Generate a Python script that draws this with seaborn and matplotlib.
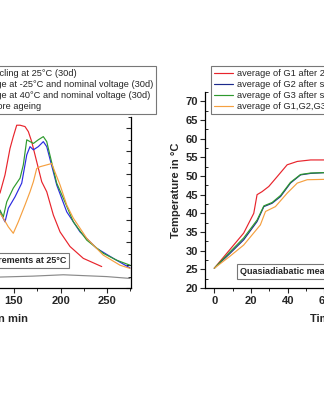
import matplotlib
matplotlib.use("Agg")
import matplotlib.pyplot as plt
from matplotlib.ticker import MultipleLocator
import seaborn as sns
import pandas as pd

# ---------------- data: left chart (cycling temperature vs time) ----------------
left_red_t = [134.9, 140.3, 145.7, 149.2, 152.9, 156.5, 161.8, 165.4, 169.0, 174.4,
              179.8, 185.2, 192.3, 199.5, 210.2, 224.5, 244.3]
left_red_v = [40.8, 44.8, 50.6, 53.2, 55.7, 55.7, 55.4, 54.3, 52.1, 47.7,
              43.3, 41.1, 36.0, 32.3, 29.1, 26.5, 24.7]

left_blue_t = [134.9, 140.3, 143.9, 151.1, 158.3, 163.7, 167.2, 170.8, 176.1, 181.5,
               185.2, 195.9, 206.7, 221.0, 238.9, 256.8, 274.7]
left_blue_v = [36.7, 34.5, 37.5, 40.0, 43.0, 49.2, 51.0, 50.3, 51.0, 52.1,
               51.0, 42.6, 36.7, 32.3, 28.7, 26.5, 24.4]

left_green_t = [134.9, 138.5, 142.2, 149.2, 156.5, 160.0, 163.7, 167.2, 170.8, 176.1,
                181.5, 185.2, 186.9, 195.9, 203.0, 213.8, 228.2, 246.0, 260.4, 274.7]
left_green_v = [37.1, 35.6, 38.9, 41.9, 44.1, 47.0, 52.5, 52.1, 51.7, 52.5,
                53.2, 52.1, 50.6, 43.0, 39.7, 34.5, 30.5, 27.6, 26.1, 25.0]

left_orange_t = [134.9, 138.5, 143.9, 149.2, 154.6, 161.8, 167.2, 170.8, 174.4, 178.0,
                 185.2, 190.5, 194.1, 199.5, 206.7, 213.8, 228.2, 246.0, 264.0, 274.7]
left_orange_v = [36.4, 35.3, 33.4, 32.0, 34.5, 38.2, 41.1, 43.3, 46.2, 46.6,
                 47.0, 47.3, 45.4, 42.6, 38.2, 35.3, 30.9, 27.2, 25.0, 24.3]

left_grey_t = [134.9, 170.0, 203.0, 249.7, 274.7]
left_grey_v = [22.4, 22.6, 22.9, 22.5, 22.1]

left_labels = [
    "average of G1 after 2C cycling at 25°C (30d)",
    "average of G2 after storage at -25°C and nominal voltage (30d)",
    "average of G3 after storage at 40°C and nominal voltage (30d)",
    "average of G1,G2,G3 before ageing",
]

# ---------------- data: right chart (quasiadiabatic measurement) ----------------
right_red_t = [0, 8, 16, 21.5, 23.3, 26.0, 29.7, 34.2, 39.7, 45.2, 52.5, 60, 65]
right_red_v = [25.3, 30.0, 34.7, 40.0, 45.0, 45.8, 47.2, 49.8, 53.0, 53.9, 54.3, 54.3, 54.3]

right_blue_t = [0, 8, 16, 23.3, 27.0, 31.5, 36.1, 41.5, 47.0, 52.5, 60, 65]
right_blue_v = [25.3, 29.0, 32.9, 37.8, 41.8, 42.7, 44.5, 48.1, 50.3, 50.7, 50.9, 50.9]

right_green_t = [0, 8, 16, 23.3, 27.0, 31.5, 36.1, 41.5, 47.0, 52.5, 60, 65]
right_green_v = [25.3, 29.4, 33.4, 38.2, 42.0, 42.9, 44.8, 48.3, 50.4, 50.8, 50.9, 50.9]

right_orange_t = [0, 8, 16, 25.1, 27.9, 33.3, 39.7, 45.2, 50.6, 60, 65]
right_orange_v = [25.3, 28.3, 31.5, 36.9, 40.5, 41.8, 45.4, 48.1, 49.0, 49.1, 49.1]

right_labels = [
    "average of G1 after 2C cycling (30d)",
    "average of G2 after storage at -25°C (30d)",
    "average of G3 after storage at 40°C (30d)",
    "average of G1,G2,G3 before ageing",
]

xlabel = "Time in min"
ylabel = "Temperature in °C"
note = "Quasiadiabatic measurements at 25°C"

# ---------------- style ----------------
sns.set_theme(style="white")
plt.rcParams["font.family"] = ["Liberation Sans", "DejaVu Sans"]
plt.rcParams["axes.linewidth"] = 0.9
plt.rcParams["xtick.major.width"] = 0.8
plt.rcParams["ytick.major.width"] = 0.8
plt.rcParams["xtick.minor.width"] = 0.7
plt.rcParams["ytick.minor.width"] = 0.7

RED = "#e8242c"
BLUE_L = "#2b2be0"
BLUE_R = "#1c2a8c"
GREEN = "#2e9a2e"
ORANGE = "#f5a040"
GREY = "#8a8a8a"
LW = 0.85

fig = plt.figure(figsize=(3.24, 4.0), dpi=100)
ax1 = fig.add_axes([-137 / 324, 112 / 400, 268 / 324, 171 / 400])
ax2 = fig.add_axes([205 / 324, 112 / 400, 271 / 324, 196 / 400])


def draw(ax, t, v, color, label):
    df = pd.DataFrame({"t": t, "v": v})
    sns.lineplot(data=df, x="t", y="v", ax=ax, color=color, lw=LW, label=label,
                 sort=False, estimator=None)


# left
draw(ax1, left_red_t, left_red_v, RED, left_labels[0])
draw(ax1, left_blue_t, left_blue_v, BLUE_L, left_labels[1])
draw(ax1, left_green_t, left_green_v, GREEN, left_labels[2])
draw(ax1, left_orange_t, left_orange_v, ORANGE, left_labels[3])
draw(ax1, left_grey_t, left_grey_v, GREY, None)

# right
draw(ax2, right_red_t, right_red_v, RED, right_labels[0])
draw(ax2, right_blue_t, right_blue_v, BLUE_R, right_labels[1])
draw(ax2, right_green_t, right_green_v, GREEN, right_labels[2])
draw(ax2, right_orange_t, right_orange_v, ORANGE, right_labels[3])

# ---- left axes formatting
ax1.set_xlim(-12.4, 275.8)
ax1.set_ylim(20, 57.5)
ax1.xaxis.set_major_locator(MultipleLocator(50))
ax1.xaxis.set_minor_locator(MultipleLocator(25))
ax1.yaxis.set_major_locator(MultipleLocator(5))
ax1.yaxis.set_minor_locator(MultipleLocator(2.5))
ax1.tick_params(axis="x", which="major", direction="out", length=3.5, bottom=True,
                labelsize=8, pad=2)
ax1.tick_params(axis="x", which="minor", direction="out", length=2, bottom=True)
ax1.tick_params(axis="y", which="major", direction="in", length=3.5, left=True,
                right=True, labelsize=8)
ax1.tick_params(axis="y", which="minor", direction="in", length=2, left=True, right=True)
for lab in ax1.get_xticklabels() + ax1.get_yticklabels():
    lab.set_fontweight("bold")
ax1.spines["top"].set_visible(False)
for s in ("left", "bottom", "right"):
    ax1.spines[s].set_color("black")
ax1.set_xlabel(xlabel, fontsize=8, fontweight="bold", labelpad=6)
ax1.set_ylabel(ylabel, fontsize=8, fontweight="bold")

# ---- right axes formatting
ax2.set_xlim(-5.07, 142.6)
ax2.set_ylim(20, 72.5)
ax2.xaxis.set_major_locator(MultipleLocator(20))
ax2.xaxis.set_minor_locator(MultipleLocator(10))
ax2.yaxis.set_major_locator(MultipleLocator(5))
ax2.yaxis.set_minor_locator(MultipleLocator(2.5))
ax2.tick_params(axis="x", which="major", direction="out", length=3.5, bottom=True,
                labelsize=8, pad=2)
ax2.tick_params(axis="x", which="minor", direction="out", length=2, bottom=True)
ax2.tick_params(axis="y", which="major", direction="out", length=3.5, left=True,
                labelsize=8, pad=1.5)
ax2.tick_params(axis="y", which="minor", direction="in", length=2, left=True)
for lab in ax2.get_xticklabels() + ax2.get_yticklabels():
    lab.set_fontweight("bold")
ax2.spines["top"].set_visible(False)
for s in ("left", "bottom", "right"):
    ax2.spines[s].set_color("black")
ax2.set_xlabel(xlabel, fontsize=8, fontweight="bold", labelpad=6)
ax2.set_ylabel(ylabel, fontsize=8, fontweight="bold", labelpad=3)

# ---- legends
leg_kw = dict(fontsize=6.7, frameon=True, fancybox=False, borderpad=0.3,
              labelspacing=0.22, handlelength=2.1, handletextpad=0.4,
              borderaxespad=0, bbox_transform=fig.transFigure)
leg1 = ax1.legend(loc="upper right", bbox_to_anchor=(156 / 324, 1 - 66 / 400), **leg_kw)
leg2 = ax2.legend(loc="upper left", bbox_to_anchor=(211 / 324, 1 - 66 / 400), **leg_kw)
for leg in (leg1, leg2):
    fr = leg.get_frame()
    fr.set_edgecolor("#777777")
    fr.set_linewidth(0.8)
    fr.set_facecolor("white")
    fr.set_alpha(1)

# ---- annotation boxes
box = dict(boxstyle="square,pad=0.35", facecolor="white", edgecolor="#777777", lw=0.8)
fig.text(66 / 324, 1 - 260.5 / 400, note, ha="right", va="center", fontsize=6.5,
         fontweight="bold", bbox=box)
fig.text(240 / 324, 1 - 271.5 / 400, note, ha="left", va="center", fontsize=6.5,
         fontweight="bold", bbox=box)

fig.savefig("out.png", dpi=100)
